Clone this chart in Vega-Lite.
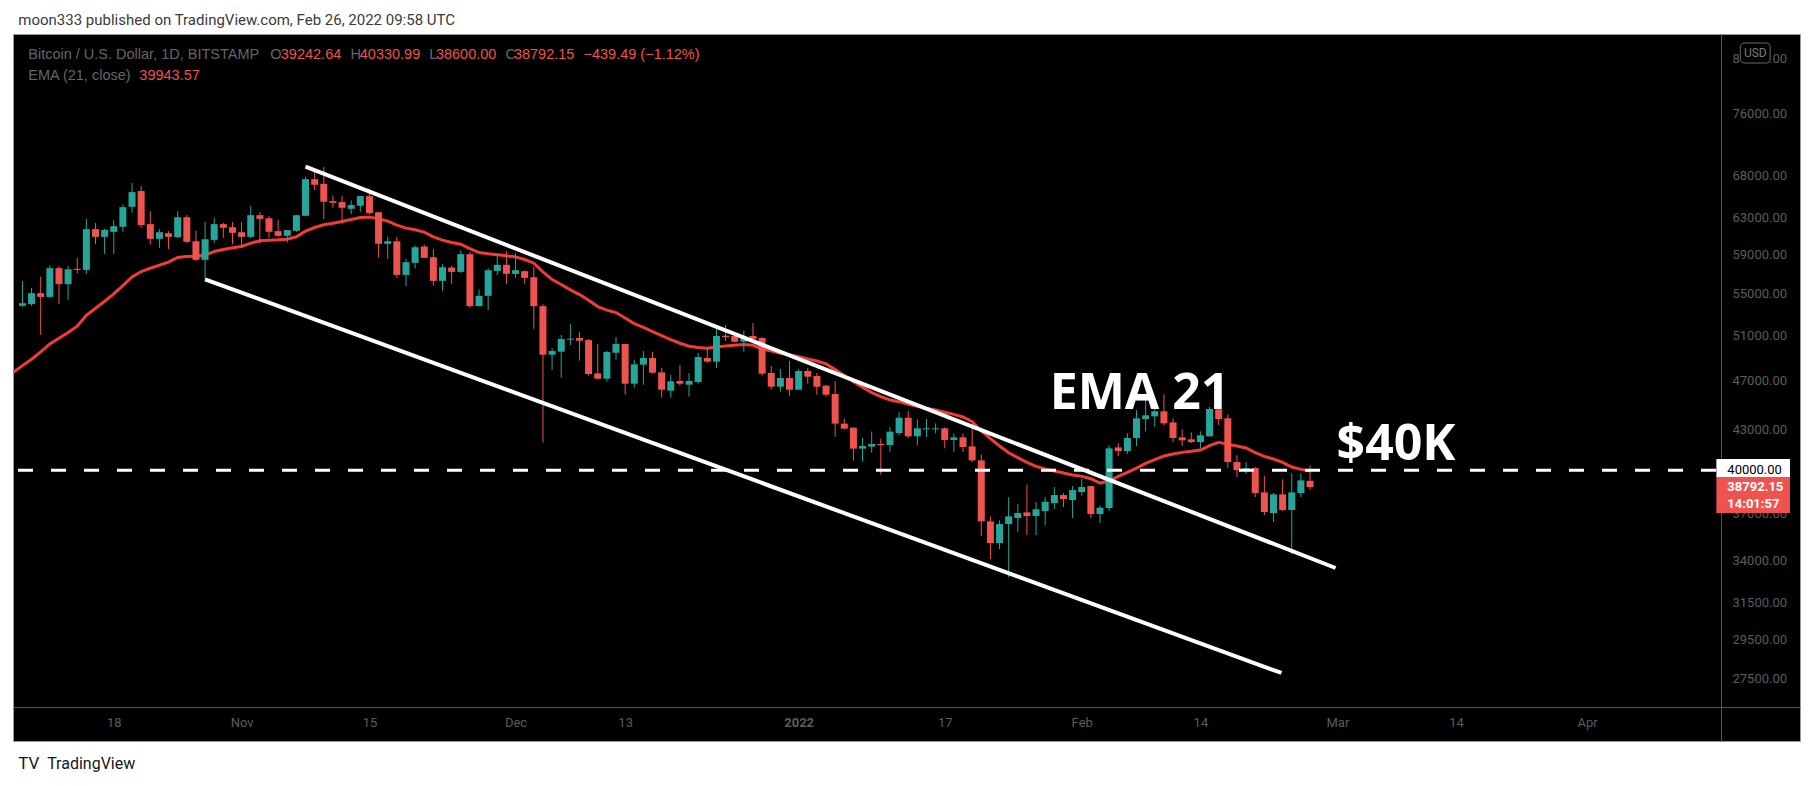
{
  "$schema": "https://vega.github.io/schema/vega-lite/v6.json",
  "width": 1787,
  "height": 707,
  "autosize": {"type": "none"},
  "padding": {"left": 13, "top": 34, "right": 13, "bottom": 45},
  "background": "#ffffff",
  "config": {
    "view": {"fill": "#000000", "stroke": "#9a9a9a", "strokeWidth": 1},
    "text": {"font": "Roboto"}
  },
  "datasets": {
    "candles": [
      {"date": "2021-10-08", "open": 53770, "high": 56210, "low": 53670, "close": 54020},
      {"date": "2021-10-09", "open": 53930, "high": 55510, "low": 53770, "close": 55010},
      {"date": "2021-10-10", "open": 55010, "high": 56650, "low": 51030, "close": 54640},
      {"date": "2021-10-11", "open": 54640, "high": 57850, "low": 54540, "close": 57540},
      {"date": "2021-10-12", "open": 57540, "high": 57740, "low": 53960, "close": 55910},
      {"date": "2021-10-13", "open": 55910, "high": 57740, "low": 54350, "close": 57430},
      {"date": "2021-10-14", "open": 57470, "high": 58620, "low": 56990, "close": 57360},
      {"date": "2021-10-15", "open": 57360, "high": 62880, "low": 56920, "close": 61730},
      {"date": "2021-10-16", "open": 61730, "high": 62400, "low": 60080, "close": 60880},
      {"date": "2021-10-17", "open": 60880, "high": 61770, "low": 59040, "close": 61650},
      {"date": "2021-10-18", "open": 61430, "high": 62740, "low": 59040, "close": 62060},
      {"date": "2021-10-19", "open": 61990, "high": 64570, "low": 61430, "close": 64220},
      {"date": "2021-10-20", "open": 64260, "high": 67060, "low": 63570, "close": 65990},
      {"date": "2021-10-21", "open": 66110, "high": 66700, "low": 61880, "close": 62170},
      {"date": "2021-10-22", "open": 62290, "high": 63760, "low": 60040, "close": 60660},
      {"date": "2021-10-23", "open": 60660, "high": 61730, "low": 59680, "close": 61390},
      {"date": "2021-10-24", "open": 61280, "high": 61510, "low": 59570, "close": 60880},
      {"date": "2021-10-25", "open": 60840, "high": 63760, "low": 60730, "close": 63070},
      {"date": "2021-10-26", "open": 63070, "high": 63300, "low": 60220, "close": 60330},
      {"date": "2021-10-27", "open": 60400, "high": 61540, "low": 58300, "close": 58410},
      {"date": "2021-10-28", "open": 58410, "high": 62550, "low": 56380, "close": 60620},
      {"date": "2021-10-29", "open": 60550, "high": 62960, "low": 60220, "close": 62290},
      {"date": "2021-10-30", "open": 62290, "high": 62440, "low": 60770, "close": 61880},
      {"date": "2021-10-31", "open": 61950, "high": 62510, "low": 60080, "close": 61320},
      {"date": "2021-11-01", "open": 61390, "high": 62510, "low": 59680, "close": 60880},
      {"date": "2021-11-02", "open": 60880, "high": 64340, "low": 60770, "close": 63300},
      {"date": "2021-11-03", "open": 63300, "high": 63680, "low": 60120, "close": 62880},
      {"date": "2021-11-04", "open": 62960, "high": 63190, "low": 60770, "close": 61430},
      {"date": "2021-11-05", "open": 61510, "high": 62740, "low": 60880, "close": 60990},
      {"date": "2021-11-06", "open": 60990, "high": 61620, "low": 60260, "close": 61620},
      {"date": "2021-11-07", "open": 61540, "high": 63340, "low": 61430, "close": 63300},
      {"date": "2021-11-08", "open": 63230, "high": 67790, "low": 63190, "close": 67540},
      {"date": "2021-11-09", "open": 67540, "high": 68530, "low": 66230, "close": 66860},
      {"date": "2021-11-10", "open": 66980, "high": 69020, "low": 62850, "close": 64850},
      {"date": "2021-11-11", "open": 64930, "high": 65590, "low": 64150, "close": 64730},
      {"date": "2021-11-12", "open": 64810, "high": 65510, "low": 62330, "close": 64150},
      {"date": "2021-11-13", "open": 64030, "high": 65000, "low": 63420, "close": 64460},
      {"date": "2021-11-14", "open": 64380, "high": 65510, "low": 63680, "close": 65510},
      {"date": "2021-11-15", "open": 65510, "high": 66390, "low": 63420, "close": 63530},
      {"date": "2021-11-16", "open": 63640, "high": 63640, "low": 58620, "close": 60120},
      {"date": "2021-11-17", "open": 60120, "high": 60910, "low": 58510, "close": 60400},
      {"date": "2021-11-18", "open": 60400, "high": 60910, "low": 56550, "close": 56850},
      {"date": "2021-11-19", "open": 56850, "high": 58510, "low": 55740, "close": 58160},
      {"date": "2021-11-20", "open": 58090, "high": 59930, "low": 57500, "close": 59750},
      {"date": "2021-11-21", "open": 59830, "high": 60040, "low": 58620, "close": 58620},
      {"date": "2021-11-22", "open": 58690, "high": 59540, "low": 55740, "close": 56240},
      {"date": "2021-11-23", "open": 56240, "high": 57950, "low": 55240, "close": 57640},
      {"date": "2021-11-24", "open": 57607, "high": 57780, "low": 55937, "close": 57159},
      {"date": "2021-11-25", "open": 57159, "high": 59434, "low": 57056, "close": 59007},
      {"date": "2021-11-26", "open": 59007, "high": 59220, "low": 53579, "close": 53740},
      {"date": "2021-11-27", "open": 53740, "high": 55369, "low": 53740, "close": 54743},
      {"date": "2021-11-28", "open": 54743, "high": 57538, "low": 53354, "close": 57331},
      {"date": "2021-11-29", "open": 57262, "high": 59007, "low": 56851, "close": 57884},
      {"date": "2021-11-30", "open": 57884, "high": 59327, "low": 55937, "close": 56953},
      {"date": "2021-12-01", "open": 56953, "high": 59114, "low": 56545, "close": 57331},
      {"date": "2021-12-02", "open": 57228, "high": 57331, "low": 55937, "close": 56545},
      {"date": "2021-12-03", "open": 56613, "high": 57676, "low": 51597, "close": 53740},
      {"date": "2021-12-04", "open": 53740, "high": 53934, "low": 42031, "close": 49240},
      {"date": "2021-12-05", "open": 49240, "high": 49836, "low": 47931, "close": 49566},
      {"date": "2021-12-06", "open": 49507, "high": 51015, "low": 47245, "close": 50650},
      {"date": "2021-12-07", "open": 50589, "high": 52032, "low": 50106, "close": 50680},
      {"date": "2021-12-08", "open": 50741, "high": 51321, "low": 48714, "close": 50498},
      {"date": "2021-12-09", "open": 50558, "high": 50650, "low": 47415, "close": 47558},
      {"date": "2021-12-10", "open": 47615, "high": 50196, "low": 47075, "close": 47160},
      {"date": "2021-12-11", "open": 47160, "high": 49566, "low": 46905, "close": 49477},
      {"date": "2021-12-12", "open": 49418, "high": 50833, "low": 48801, "close": 50196},
      {"date": "2021-12-13", "open": 50196, "high": 50196, "low": 45820, "close": 46736},
      {"date": "2021-12-14", "open": 46736, "high": 48801, "low": 46401, "close": 48393},
      {"date": "2021-12-15", "open": 48364, "high": 49566, "low": 46652, "close": 48947},
      {"date": "2021-12-16", "open": 48947, "high": 49507, "low": 47587, "close": 47672},
      {"date": "2021-12-17", "open": 47701, "high": 48103, "low": 45573, "close": 46234},
      {"date": "2021-12-18", "open": 46151, "high": 47472, "low": 45573, "close": 46934},
      {"date": "2021-12-19", "open": 46962, "high": 48335, "low": 46569, "close": 46736},
      {"date": "2021-12-20", "open": 46652, "high": 47644, "low": 45654, "close": 46962},
      {"date": "2021-12-21", "open": 46877, "high": 49418, "low": 46736, "close": 49035},
      {"date": "2021-12-22", "open": 48947, "high": 49746, "low": 48538, "close": 48626},
      {"date": "2021-12-23", "open": 48626, "high": 51566, "low": 48075, "close": 50924},
      {"date": "2021-12-24", "open": 50954, "high": 51939, "low": 50468, "close": 50833},
      {"date": "2021-12-25", "open": 50924, "high": 51198, "low": 50317, "close": 50407},
      {"date": "2021-12-26", "open": 50407, "high": 51413, "low": 49507, "close": 50833},
      {"date": "2021-12-27", "open": 50924, "high": 52126, "low": 50558, "close": 50650},
      {"date": "2021-12-28", "open": 50741, "high": 50833, "low": 47415, "close": 47587},
      {"date": "2021-12-29", "open": 47644, "high": 48248, "low": 46234, "close": 46485},
      {"date": "2021-12-30", "open": 46485, "high": 47988, "low": 46068, "close": 47216},
      {"date": "2021-12-31", "open": 47216, "high": 48684, "low": 45737, "close": 46234},
      {"date": "2022-01-01", "open": 46234, "high": 47988, "low": 46234, "close": 47816},
      {"date": "2022-01-02", "open": 47816, "high": 48075, "low": 46736, "close": 47330},
      {"date": "2022-01-03", "open": 47387, "high": 47644, "low": 45820, "close": 46485},
      {"date": "2022-01-04", "open": 46569, "high": 46624, "low": 45654, "close": 45820},
      {"date": "2022-01-05", "open": 45874, "high": 46962, "low": 42487, "close": 43495},
      {"date": "2022-01-06", "open": 43495, "high": 43889, "low": 43052, "close": 43104},
      {"date": "2022-01-07", "open": 43182, "high": 43182, "low": 40692, "close": 41580},
      {"date": "2022-01-08", "open": 41580, "high": 42385, "low": 40619, "close": 41780},
      {"date": "2022-01-09", "open": 41730, "high": 42872, "low": 41282, "close": 41930},
      {"date": "2022-01-10", "open": 41930, "high": 42334, "low": 39675, "close": 41855},
      {"date": "2022-01-11", "open": 41855, "high": 43231, "low": 41356, "close": 42872},
      {"date": "2022-01-12", "open": 42767, "high": 44389, "low": 42587, "close": 43964},
      {"date": "2022-01-13", "open": 43964, "high": 44468, "low": 42383, "close": 42510},
      {"date": "2022-01-14", "open": 42510, "high": 43832, "low": 41827, "close": 43128},
      {"date": "2022-01-15", "open": 43050, "high": 43859, "low": 42459, "close": 43128},
      {"date": "2022-01-16", "open": 43050, "high": 43518, "low": 42741, "close": 43128},
      {"date": "2022-01-17", "open": 43128, "high": 43206, "low": 41601, "close": 42230},
      {"date": "2022-01-18", "open": 42230, "high": 42741, "low": 41327, "close": 42434},
      {"date": "2022-01-19", "open": 42434, "high": 42741, "low": 41327, "close": 41701},
      {"date": "2022-01-20", "open": 41751, "high": 43440, "low": 40589, "close": 40711},
      {"date": "2022-01-21", "open": 40711, "high": 41154, "low": 35525, "close": 36476},
      {"date": "2022-01-22", "open": 36476, "high": 36807, "low": 34085, "close": 35079},
      {"date": "2022-01-23", "open": 35079, "high": 36542, "low": 34702, "close": 36301},
      {"date": "2022-01-24", "open": 36301, "high": 38111, "low": 32983, "close": 36807},
      {"date": "2022-01-25", "open": 36696, "high": 37633, "low": 35781, "close": 37028},
      {"date": "2022-01-26", "open": 37073, "high": 38989, "low": 35589, "close": 36829},
      {"date": "2022-01-27", "open": 36829, "high": 37769, "low": 35589, "close": 37274},
      {"date": "2022-01-28", "open": 37162, "high": 38111, "low": 36236, "close": 37792},
      {"date": "2022-01-29", "open": 37701, "high": 38803, "low": 37296, "close": 38248},
      {"date": "2022-01-30", "open": 38248, "high": 38386, "low": 37431, "close": 37974},
      {"date": "2022-01-31", "open": 37906, "high": 38872, "low": 36696, "close": 38593},
      {"date": "2022-02-01", "open": 38455, "high": 39366, "low": 38202, "close": 38803},
      {"date": "2022-02-02", "open": 38872, "high": 38872, "low": 36696, "close": 36961},
      {"date": "2022-02-03", "open": 36961, "high": 37521, "low": 36366, "close": 37386},
      {"date": "2022-02-04", "open": 37364, "high": 41827, "low": 37162, "close": 41601},
      {"date": "2022-02-05", "open": 41676, "high": 41978, "low": 41031, "close": 41402},
      {"date": "2022-02-06", "open": 41402, "high": 42741, "low": 41178, "close": 42383},
      {"date": "2022-02-07", "open": 42383, "high": 44549, "low": 41776, "close": 43912},
      {"date": "2022-02-08", "open": 43859, "high": 45468, "low": 42895, "close": 44150},
      {"date": "2022-02-09", "open": 44070, "high": 44898, "low": 43232, "close": 44468},
      {"date": "2022-02-10", "open": 44468, "high": 45851, "low": 43362, "close": 43518},
      {"date": "2022-02-11", "open": 43596, "high": 43912, "low": 42053, "close": 42383},
      {"date": "2022-02-12", "open": 42434, "high": 43050, "low": 41776, "close": 42205},
      {"date": "2022-02-13", "open": 42280, "high": 42818, "low": 42003, "close": 42079},
      {"date": "2022-02-14", "open": 42079, "high": 42895, "low": 41626, "close": 42587},
      {"date": "2022-02-15", "open": 42510, "high": 44817, "low": 42510, "close": 44656},
      {"date": "2022-02-16", "open": 44629, "high": 44656, "low": 43388, "close": 43859},
      {"date": "2022-02-17", "open": 43912, "high": 44229, "low": 40153, "close": 40589},
      {"date": "2022-02-18", "open": 40589, "high": 41080, "low": 39508, "close": 40008},
      {"date": "2022-02-19", "open": 40081, "high": 40565, "low": 39722, "close": 40153},
      {"date": "2022-02-20", "open": 40153, "high": 40225, "low": 38111, "close": 38386},
      {"date": "2022-02-21", "open": 38432, "high": 39579, "low": 36895, "close": 37095},
      {"date": "2022-02-22", "open": 37028, "high": 38386, "low": 36432, "close": 38294},
      {"date": "2022-02-23", "open": 38294, "high": 39342, "low": 37162, "close": 37229},
      {"date": "2022-02-24", "open": 37229, "high": 39769, "low": 34392, "close": 38432},
      {"date": "2022-02-25", "open": 38386, "high": 39769, "low": 38111, "close": 39272},
      {"date": "2022-02-26", "open": 39242.64, "high": 40330.99, "low": 38600, "close": 38792.15}
    ],
    "ema": [
      {"date": "2021-10-07", "ema": 47700}, {"date": "2021-10-08", "ema": 48282}, {"date": "2021-10-09", "ema": 48837},
      {"date": "2021-10-10", "ema": 49486}, {"date": "2021-10-11", "ema": 50204}, {"date": "2021-10-12", "ema": 50720},
      {"date": "2021-10-13", "ema": 51240}, {"date": "2021-10-14", "ema": 51828}, {"date": "2021-10-15", "ema": 52865},
      {"date": "2021-10-16", "ema": 53537}, {"date": "2021-10-17", "ema": 54217}, {"date": "2021-10-18", "ema": 54938},
      {"date": "2021-10-19", "ema": 55769}, {"date": "2021-10-20", "ema": 56647}, {"date": "2021-10-21", "ema": 57194},
      {"date": "2021-10-22", "ema": 57536}, {"date": "2021-10-23", "ema": 57850}, {"date": "2021-10-24", "ema": 58162},
      {"date": "2021-10-25", "ema": 58655}, {"date": "2021-10-26", "ema": 58760}, {"date": "2021-10-27", "ema": 58797},
      {"date": "2021-10-28", "ema": 58902}, {"date": "2021-10-29", "ema": 59293}, {"date": "2021-10-30", "ema": 59505},
      {"date": "2021-10-31", "ema": 59686}, {"date": "2021-11-01", "ema": 59830}, {"date": "2021-11-02", "ema": 60189},
      {"date": "2021-11-03", "ema": 60443}, {"date": "2021-11-04", "ema": 60518}, {"date": "2021-11-05", "ema": 60554},
      {"date": "2021-11-06", "ema": 60627}, {"date": "2021-11-07", "ema": 60881}, {"date": "2021-11-08", "ema": 61505},
      {"date": "2021-11-09", "ema": 61912}, {"date": "2021-11-10", "ema": 62211}, {"date": "2021-11-11", "ema": 62398},
      {"date": "2021-11-12", "ema": 62585}, {"date": "2021-11-13", "ema": 62812}, {"date": "2021-11-14", "ema": 63038},
      {"date": "2021-11-15", "ema": 63076}, {"date": "2021-11-16", "ema": 62887}, {"date": "2021-11-17", "ema": 62623},
      {"date": "2021-11-18", "ema": 62173}, {"date": "2021-11-19", "ema": 61838}, {"date": "2021-11-20", "ema": 61653},
      {"date": "2021-11-21", "ema": 61394}, {"date": "2021-11-22", "ema": 60881}, {"date": "2021-11-23", "ema": 60518},
      {"date": "2021-11-24", "ema": 60265}, {"date": "2021-11-25", "ema": 60080}, {"date": "2021-11-26", "ema": 59613},
      {"date": "2021-11-27", "ema": 59185}, {"date": "2021-11-28", "ema": 59043}, {"date": "2021-11-29", "ema": 58937},
      {"date": "2021-11-30", "ema": 58831}, {"date": "2021-12-01", "ema": 58725}, {"date": "2021-12-02", "ema": 58444},
      {"date": "2021-12-03", "ema": 58058}, {"date": "2021-12-04", "ema": 57159}, {"date": "2021-12-05", "ema": 56374},
      {"date": "2021-12-06", "ema": 55869}, {"date": "2021-12-07", "ema": 55335}, {"date": "2021-12-08", "ema": 54871},
      {"date": "2021-12-09", "ema": 54314}, {"date": "2021-12-10", "ema": 53698}, {"date": "2021-12-11", "ema": 53354},
      {"date": "2021-12-12", "ema": 53120}, {"date": "2021-12-13", "ema": 52612}, {"date": "2021-12-14", "ema": 52078},
      {"date": "2021-12-15", "ema": 51735}, {"date": "2021-12-16", "ema": 51321}, {"date": "2021-12-17", "ema": 50954},
      {"date": "2021-12-18", "ema": 50589}, {"date": "2021-12-19", "ema": 50265}, {"date": "2021-12-20", "ema": 49994},
      {"date": "2021-12-21", "ema": 49874}, {"date": "2021-12-22", "ema": 49815}, {"date": "2021-12-23", "ema": 49934},
      {"date": "2021-12-24", "ema": 50024}, {"date": "2021-12-25", "ema": 50085}, {"date": "2021-12-26", "ema": 50145},
      {"date": "2021-12-27", "ema": 50085}, {"date": "2021-12-28", "ema": 49754}, {"date": "2021-12-29", "ema": 49566},
      {"date": "2021-12-30", "ema": 49367}, {"date": "2021-12-31", "ema": 49249}, {"date": "2022-01-01", "ema": 49072},
      {"date": "2022-01-02", "ema": 48866}, {"date": "2022-01-03", "ema": 48690}, {"date": "2022-01-04", "ema": 48428},
      {"date": "2022-01-05", "ema": 47936}, {"date": "2022-01-06", "ema": 47421}, {"date": "2022-01-07", "ema": 46905},
      {"date": "2022-01-08", "ema": 46434}, {"date": "2022-01-09", "ema": 45990}, {"date": "2022-01-10", "ema": 45659},
      {"date": "2022-01-11", "ema": 45386}, {"date": "2022-01-12", "ema": 45249}, {"date": "2022-01-13", "ema": 45033},
      {"date": "2022-01-14", "ema": 44871}, {"date": "2022-01-15", "ema": 44710}, {"date": "2022-01-16", "ema": 44576},
      {"date": "2022-01-17", "ema": 44389}, {"date": "2022-01-18", "ema": 44229}, {"date": "2022-01-19", "ema": 44017},
      {"date": "2022-01-20", "ema": 43649}, {"date": "2022-01-21", "ema": 42921}, {"date": "2022-01-22", "ema": 42331},
      {"date": "2022-01-23", "ema": 41776}, {"date": "2022-01-24", "ema": 41277}, {"date": "2022-01-25", "ema": 40907},
      {"date": "2022-01-26", "ema": 40565}, {"date": "2022-01-27", "ema": 40273}, {"date": "2022-01-28", "ema": 40081},
      {"date": "2022-01-29", "ema": 39935}, {"date": "2022-01-30", "ema": 39792}, {"date": "2022-01-31", "ema": 39649},
      {"date": "2022-02-01", "ema": 39554}, {"date": "2022-02-02", "ema": 39388}, {"date": "2022-02-03", "ema": 39082},
      {"date": "2022-02-04", "ema": 39223}, {"date": "2022-02-05", "ema": 39554}, {"date": "2022-02-06", "ema": 39839},
      {"date": "2022-02-07", "ema": 40153}, {"date": "2022-02-08", "ema": 40491}, {"date": "2022-02-09", "ema": 40760},
      {"date": "2022-02-10", "ema": 41031}, {"date": "2022-02-11", "ema": 41178}, {"date": "2022-02-12", "ema": 41302},
      {"date": "2022-02-13", "ema": 41377}, {"date": "2022-02-14", "ema": 41476}, {"date": "2022-02-15", "ema": 41801},
      {"date": "2022-02-16", "ema": 42053}, {"date": "2022-02-17", "ema": 41902}, {"date": "2022-02-18", "ema": 41776},
      {"date": "2022-02-19", "ema": 41626}, {"date": "2022-02-20", "ema": 41277}, {"date": "2022-02-21", "ema": 41005},
      {"date": "2022-02-22", "ema": 40809}, {"date": "2022-02-23", "ema": 40565}, {"date": "2022-02-24", "ema": 40225},
      {"date": "2022-02-25", "ema": 40056}, {"date": "2022-02-26", "ema": 39943.57}
    ],
    "trendlines": [
      {"line": "upper", "date": "2021-11-08T00:00:00Z", "price": 69071},
      {"line": "upper", "date": "2022-02-28T19:12:00Z", "price": 33540},
      {"line": "lower", "date": "2021-10-28T00:00:00Z", "price": 56398},
      {"line": "lower", "date": "2022-02-22T21:00:00Z", "price": 27764}
    ],
    "level": [
      {"start": "2021-10-07T12:19:00Z", "end": "2022-04-11T12:00:00Z", "price": 40000}
    ],
    "callouts": [
      {"date": "2022-01-28T11:45:00Z", "price": 44629, "txt": "EMA 21"},
      {"date": "2022-02-28T21:50:00Z", "price": 40740, "txt": "$40K"}
    ],
    "header": [
      {"date": "2021-10-07T13:06:00Z", "price": 89142, "txt": "moon333 published on TradingView.com, Feb 26, 2022 09:58 UTC"}
    ],
    "legendNames": [
      {"date": "2021-10-08T15:14:00Z", "price": 83849, "txt": "Bitcoin / U.S. Dollar, 1D, BITSTAMP"},
      {"date": "2021-11-04T03:22:00Z", "price": 83849, "txt": "O"},
      {"date": "2021-11-12T22:00:00Z", "price": 83849, "txt": "H"},
      {"date": "2021-11-21T13:26:00Z", "price": 83849, "txt": "L"},
      {"date": "2021-11-29T21:36:00Z", "price": 83849, "txt": "C"},
      {"date": "2021-10-08T15:14:00Z", "price": 80738, "txt": "EMA (21, close)"}
    ],
    "legendValues": [
      {"date": "2021-11-05T07:00:00Z", "price": 83849, "txt": "39242.64"},
      {"date": "2021-11-13T22:34:00Z", "price": 83849, "txt": "40330.99"},
      {"date": "2021-11-22T06:43:00Z", "price": 83849, "txt": "38600.00"},
      {"date": "2021-11-30T19:40:00Z", "price": 83849, "txt": "38792.15"},
      {"date": "2021-12-08T10:34:00Z", "price": 83849, "txt": "−439.49 (−1.12%)"},
      {"date": "2021-10-20T19:12:00Z", "price": 80738, "txt": "39943.57"}
    ],
    "priceBoxes": [
      {"box": "level", "start": "2022-04-11T12:00:00Z", "end": "2022-04-19T13:26:00Z", "low": 39509, "high": 40813},
      {"box": "last", "start": "2022-04-11T12:00:00Z", "end": "2022-04-19T13:26:00Z", "low": 37033, "high": 39509}
    ],
    "unitBox": [
      {"start": "2022-04-14T02:53:00Z", "end": "2022-04-17T09:22:00Z", "low": 83247, "high": 86299, "center": "2022-04-15T18:14:00Z", "mid": 84759, "txt": "USD"}
    ],
    "levelLabel": [
      {"date": "2022-04-12T16:48:00Z", "price": 40000, "txt": "40000.00"}
    ],
    "lastLabel": [
      {"date": "2022-04-12T16:48:00Z", "price": 38792.15, "txt": "38792.15"},
      {"date": "2022-04-12T16:48:00Z", "price": 37638, "txt": "14:01:57"}
    ],
    "brand": [
      {"date": "2021-10-07T13:06:00Z", "price": 23568, "txt": "TV", "kind": "logo"},
      {"date": "2021-10-10T16:54:00Z", "price": 23568, "txt": "TradingView", "kind": "name"}
    ]
  },
  "layer": [
    {
      "data": {"name": "ema"},
      "mark": {"type": "line", "color": "#f03c37", "strokeWidth": 3, "clip": true},
      "encoding": {
        "x": {
          "field": "date", "type": "temporal",
          "scale": {"type": "utc", "domain": ["2021-10-07T12:19:00Z", "2022-04-20T02:38:00Z"], "nice": false},
          "axis": {
            "orient": "bottom", "offset": -34, "title": null, "grid": false, "ticks": false, "tickSize": 0,
            "domainColor": "#555555", "domainWidth": 1,
            "labelColor": "#5c5c5c", "labelFont": "Roboto", "labelFontSize": 13, "labelPadding": 9,
            "labelFlush": false, "labelOverlap": false,
            "values": [
              {"year": 2021, "month": 10, "date": 18, "utc": true},
              {"year": 2021, "month": 11, "date": 1, "utc": true},
              {"year": 2021, "month": 11, "date": 15, "utc": true},
              {"year": 2021, "month": 12, "date": 1, "utc": true},
              {"year": 2021, "month": 12, "date": 13, "utc": true},
              {"year": 2022, "month": 1, "date": 1, "utc": true},
              {"year": 2022, "month": 1, "date": 17, "utc": true},
              {"year": 2022, "month": 2, "date": 1, "utc": true},
              {"year": 2022, "month": 2, "date": 14, "utc": true},
              {"year": 2022, "month": 3, "date": 1, "utc": true},
              {"year": 2022, "month": 3, "date": 14, "utc": true},
              {"year": 2022, "month": 3, "date": 28, "hours": 8, "utc": true}
            ],
            "labelExpr": "utcmonth(datum.value) == 2 && utcdate(datum.value) == 28 ? 'Apr' : (utcdate(datum.value) == 1 ? (utcmonth(datum.value) == 0 ? utcFormat(datum.value, '%Y') : utcFormat(datum.value, '%b')) : utcFormat(datum.value, '%-d'))",
            "labelFontWeight": {"condition": {"test": "utcmonth(datum.value) == 0 && utcdate(datum.value) == 1", "value": "bold"}, "value": "normal"}
          }
        },
        "y": {
          "field": "ema", "type": "quantitative",
          "scale": {"type": "log", "domain": [24565, 87710], "nice": false, "zero": false},
          "axis": {
            "orient": "right", "offset": -79, "title": null, "grid": false, "ticks": false, "tickSize": 0,
            "domainColor": "#555555", "domainWidth": 1,
            "labelColor": "#5c5c5c", "labelFont": "Roboto", "labelFontSize": 13, "labelPadding": 11,
            "labelAlign": "left", "labelBaseline": "middle", "labelFlush": false, "labelOverlap": false,
            "values": [27500, 29500, 31500, 34000, 37000, 43000, 47000, 51000, 55000, 59000, 63000, 68000, 76000, 84000],
            "format": ".2f"
          }
        }
      }
    },
    {
      "data": {"name": "candles"},
      "mark": {"type": "rule", "strokeWidth": 1},
      "encoding": {
        "x": {"field": "date", "type": "temporal"},
        "y": {"field": "low", "type": "quantitative"},
        "y2": {"field": "high"},
        "color": {"condition": {"test": "datum.close >= datum.open", "value": "#26a69a"}, "value": "#ef5350"}
      }
    },
    {
      "data": {"name": "candles"},
      "mark": {"type": "bar", "width": 7},
      "encoding": {
        "x": {"field": "date", "type": "temporal"},
        "y": {"field": "open", "type": "quantitative"},
        "y2": {"field": "close"},
        "color": {"condition": {"test": "datum.close >= datum.open", "value": "#26a69a"}, "value": "#ef5350"}
      }
    },
    {
      "data": {"name": "trendlines"},
      "mark": {"type": "line", "color": "#ffffff", "strokeWidth": 4, "strokeCap": "butt"},
      "encoding": {
        "x": {"field": "date", "type": "temporal"},
        "y": {"field": "price", "type": "quantitative"},
        "detail": {"field": "line"}
      }
    },
    {
      "data": {"name": "level"},
      "mark": {"type": "rule", "color": "#ffffff", "strokeWidth": 3, "strokeDash": [15, 18]},
      "encoding": {
        "x": {"field": "start", "type": "temporal"},
        "x2": {"field": "end"},
        "y": {"field": "price", "type": "quantitative"}
      }
    },
    {
      "data": {"name": "callouts"},
      "mark": {"type": "text", "color": "#ffffff", "font": "Open Sans", "fontSize": 50, "fontWeight": "bold", "align": "left", "baseline": "alphabetic"},
      "encoding": {
        "x": {"field": "date", "type": "temporal"},
        "y": {"field": "price", "type": "quantitative"},
        "text": {"field": "txt"}
      }
    },
    {
      "data": {"name": "header"},
      "mark": {"type": "text", "color": "#3a3a3a", "fontSize": 15, "align": "left", "baseline": "alphabetic"},
      "encoding": {
        "x": {"field": "date", "type": "temporal"},
        "y": {"field": "price", "type": "quantitative"},
        "text": {"field": "txt"}
      }
    },
    {
      "data": {"name": "legendNames"},
      "mark": {"type": "text", "color": "#666666", "font": "Liberation Sans", "fontSize": 14.5, "align": "left", "baseline": "alphabetic"},
      "encoding": {
        "x": {"field": "date", "type": "temporal"},
        "y": {"field": "price", "type": "quantitative"},
        "text": {"field": "txt"}
      }
    },
    {
      "data": {"name": "legendValues"},
      "mark": {"type": "text", "color": "#ef5350", "font": "Liberation Sans", "fontSize": 14.5, "align": "left", "baseline": "alphabetic"},
      "encoding": {
        "x": {"field": "date", "type": "temporal"},
        "y": {"field": "price", "type": "quantitative"},
        "text": {"field": "txt"}
      }
    },
    {
      "data": {"name": "priceBoxes"},
      "mark": {"type": "rect"},
      "encoding": {
        "x": {"field": "start", "type": "temporal"},
        "x2": {"field": "end"},
        "y": {"field": "low", "type": "quantitative"},
        "y2": {"field": "high"},
        "color": {"condition": {"test": "datum.box == 'level'", "value": "#ffffff"}, "value": "#ef5350"}
      }
    },
    {
      "data": {"name": "unitBox"},
      "mark": {"type": "rect", "fill": "#000000", "stroke": "#6a6a6a", "strokeWidth": 1, "cornerRadius": 4},
      "encoding": {
        "x": {"field": "start", "type": "temporal"},
        "x2": {"field": "end"},
        "y": {"field": "low", "type": "quantitative"},
        "y2": {"field": "high"}
      }
    },
    {
      "data": {"name": "unitBox"},
      "mark": {"type": "text", "color": "#7a7a7a", "fontSize": 12, "align": "center", "baseline": "middle"},
      "encoding": {
        "x": {"field": "center", "type": "temporal"},
        "y": {"field": "mid", "type": "quantitative"},
        "text": {"field": "txt"}
      }
    },
    {
      "data": {"name": "levelLabel"},
      "mark": {"type": "text", "color": "#000000", "fontSize": 13, "align": "left", "baseline": "middle"},
      "encoding": {
        "x": {"field": "date", "type": "temporal"},
        "y": {"field": "price", "type": "quantitative"},
        "text": {"field": "txt"}
      }
    },
    {
      "data": {"name": "lastLabel"},
      "mark": {"type": "text", "color": "#ffffff", "fontSize": 13, "fontWeight": "bold", "align": "left", "baseline": "middle"},
      "encoding": {
        "x": {"field": "date", "type": "temporal"},
        "y": {"field": "price", "type": "quantitative"},
        "text": {"field": "txt"}
      }
    },
    {
      "data": {"name": "brand"},
      "mark": {"type": "text", "color": "#131722", "align": "left", "baseline": "middle"},
      "encoding": {
        "x": {"field": "date", "type": "temporal"},
        "y": {"field": "price", "type": "quantitative"},
        "text": {"field": "txt"},
        "size": {"condition": {"test": "datum.kind == 'logo'", "value": 17}, "value": 16},
        "fontWeight": {"condition": {"test": "datum.kind == 'logo'", "value": 900}, "value": "normal"}
      }
    }
  ]
}
